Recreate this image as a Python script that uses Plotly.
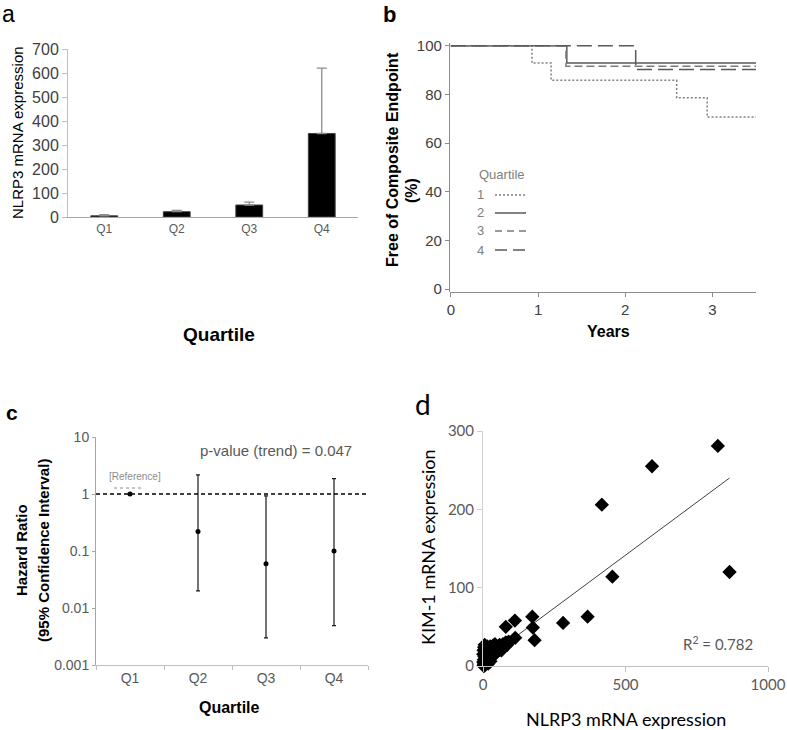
import plotly.graph_objects as go

W, H = 787, 730
def fx(p): return p / W
def fy(p): return 1 - p / H

ARIAL = "Liberation Sans, Arial, sans-serif"
CALIBRI = "Lato, Carlito, Calibri, sans-serif"

# ---------------- data ----------------
# panel a
quartiles = ["Q1", "Q2", "Q3", "Q4"]
nlrp3_mean = [5, 22, 50, 348]
nlrp3_sd = [5, 6, 12, 272]

# panel b (Kaplan-Meier, step curves)
q1_t = [0, 0.93, 1.15, 2.59, 2.94, 3.5]
q1_s = [100, 92.9, 85.8, 78.6, 70.7, 70.7]
q2_t = [0, 1.33, 3.5]
q2_s = [100, 92.9, 92.9]
q3_t = [0, 1.32, 3.5]
q3_s = [100, 91.6, 91.6]
q4_t = [0, 2.12, 3.5]
q4_s = [100, 90.2, 90.2]

# panel c
hr = [1, 0.22, 0.06, 0.10]
hr_lo = [1, 0.020, 0.003, 0.0049]
hr_hi = [1, 2.16, 0.93, 1.86]
hr_ticks = [10, 1, 0.1, 0.01, 0.001]
hr_ticktext = ["10", "1", "0.1", "0.01", "0.001"]

# panel d
nlrp3_x = [824, 593, 417, 865, 454, 367, 281, 173, 175, 181, 112, 80, 113,
           2, 4, 6, 8, 3, 5, 1, 2, 4, 6, 10, 12, 14, 16, 18, 20, 22, 25, 28,
           30, 33, 35, 38, 40, 42, 45, 48, 50, 55, 58, 62, 65, 70, 75, 80, 85,
           90, 10, 12, 20, 26, 15, 8, 32, 1, 3, 7, 18, 24, 36, 44, 52, 60, 68]
kim1_y = [281, 255, 206, 120, 114, 63, 55, 63, 49, 33, 58, 50, 36,
          1, 3, 2, 5, 8, 12, 15, 20, 24, 27, 22, 18, 10, 14, 6, 20, 16, 25, 12,
          20, 18, 26, 22, 15, 28, 20, 24, 18, 22, 27, 25, 20, 28, 26, 30, 27,
          31, 4, 8, 10, 6, 25, 18, 12, 5, 0, 1, 3, 9, 14, 17, 19, 21, 23]
trend_x = [0, 865]
trend_y = [6.5, 240]

fig = go.Figure()

# ---------- panel a ----------
fig.add_trace(go.Bar(
    x=quartiles, y=nlrp3_mean, width=0.37,
    marker=dict(color="black", line=dict(color="#404040", width=1)),
    error_y=dict(type="data", array=nlrp3_sd, arrayminus=[0, 0, 0, 0],
                 symmetric=False, color="#8c8c8c", thickness=1.3, width=5),
    xaxis="x", yaxis="y", showlegend=False))

# ---------- panel b ----------
km_styles = [
    (q1_t, q1_s, "#808080", "2px,2px"),
    (q2_t, q2_s, "#595959", "solid"),
    (q3_t, q3_s, "#7a7a7a", "8px,4px"),
    (q4_t, q4_s, "#595959", "15px,6px"),
]
for t, s, col, dash in km_styles:
    fig.add_trace(go.Scatter(x=t, y=s, mode="lines", line_shape="hv",
                             line=dict(color=col, width=1.5, dash=dash),
                             xaxis="x2", yaxis="y2", showlegend=False))

# ---------- panel c ----------
err_plus = [h - m for h, m in zip(hr_hi, hr)]
err_minus = [m - l for m, l in zip(hr, hr_lo)]
fig.add_trace(go.Scatter(
    x=quartiles, y=hr, mode="markers",
    marker=dict(color="black", size=5),
    error_y=dict(type="data", array=err_plus, arrayminus=err_minus,
                 symmetric=False, color="#1a1a1a", thickness=1.2, width=2),
    xaxis="x3", yaxis="y3", showlegend=False, cliponaxis=False))

# ---------- panel d ----------
fig.add_trace(go.Scatter(
    x=trend_x, y=trend_y, mode="lines",
    line=dict(color="#404040", width=1),
    xaxis="x4", yaxis="y4", showlegend=False))
fig.add_trace(go.Scatter(
    x=nlrp3_x, y=kim1_y, mode="markers",
    marker=dict(symbol="diamond", color="black", size=11, line=dict(width=0)),
    xaxis="x4", yaxis="y4", showlegend=False, cliponaxis=False))

# ---------- axes ----------
grey_t = "#404040"
common = dict(showgrid=False, zeroline=False, automargin=False)
layout = dict(
    template="none",
    width=W, height=H, margin=dict(l=0, r=0, t=0, b=0, autoexpand=False),
    paper_bgcolor="white", plot_bgcolor="white", showlegend=False,
    font=dict(family=ARIAL, color="black"),
    # panel a
    xaxis=dict(domain=[fx(68), fx(358)], anchor="y", range=[-0.5, 3.5],
               showline=True, linecolor="#a6a6a6", linewidth=1.2, ticks="",
               tickfont=dict(size=12, color="#595959"), **common),
    yaxis=dict(domain=[fy(217), fy(49)], anchor="x", range=[0, 700],
               tickvals=[0, 100, 200, 300, 400, 500, 600, 700],
               showline=True, linecolor="#bfbfbf", linewidth=1, ticks="outside",
               ticklen=5, tickcolor="#bfbfbf",
               tickfont=dict(size=16, color=grey_t), **common),
    # panel b
    xaxis2=dict(domain=[fx(450), fx(756)], anchor="free", position=fy(292),
                range=[-0.01, 3.5], tickvals=[0, 1, 2, 3],
                showline=True, linecolor="#8c8c8c", linewidth=1.2, ticks="outside",
                ticklen=4, tickcolor="#8c8c8c",
                tickfont=dict(size=15, color=grey_t), **common),
    yaxis2=dict(domain=[fy(292), fy(43.3)], anchor="free", position=fx(449),
                range=[-1.2, 101], tickvals=[0, 20, 40, 60, 80, 100],
                showline=True, linecolor="#8c8c8c", linewidth=1.2, ticks="outside",
                ticklen=4, tickcolor="#8c8c8c",
                tickfont=dict(size=15, color=grey_t), **common),
    # panel c
    xaxis3=dict(domain=[fx(96), fx(368)], anchor="y3", range=[-0.5, 3.5],
                showline=True, linecolor="#bfbfbf", linewidth=1, ticks="outside",
                tickson="boundaries", ticklen=4, tickcolor="#bfbfbf",
                tickfont=dict(size=14, color="#595959"), **common),
    yaxis3=dict(domain=[fy(665), fy(437)], anchor="x3", type="log", range=[-3, 1],
                tickvals=hr_ticks, ticktext=hr_ticktext,
                showline=True, linecolor="#a6a6a6", linewidth=1, ticks="outside",
                ticklen=3, tickcolor="#a6a6a6",
                tickfont=dict(size=14, color="#595959"), **common),
    # panel d
    xaxis4=dict(domain=[fx(483), fx(768)], anchor="y4", range=[0, 1000],
                tickvals=[0, 500, 1000], showline=True, linecolor="#bfbfbf",
                linewidth=1, ticks="outside", ticklen=5, tickcolor="#bfbfbf",
                tickfont=dict(family=CALIBRI, size=15, color="#595959"), **common),
    yaxis4=dict(domain=[fy(666), fy(431)], anchor="x4", range=[0, 300],
                tickvals=[0, 100, 200, 300], showline=True, linecolor="#d0d0d0",
                linewidth=1, ticks="outside", ticklen=5, tickcolor="#d0d0d0",
                tickfont=dict(family=CALIBRI, size=15, color="#595959"), **common),
)
fig.update_layout(**layout)

# ---------- annotations ----------
def ann(text, x, y, size, color="black", bold=False, angle=0, family=ARIAL,
        xanchor="center"):
    t = f"<b>{text}</b>" if bold else text
    fig.add_annotation(text=t, x=fx(x), y=fy(y), xref="paper", yref="paper",
                       showarrow=False, textangle=angle, xanchor=xanchor,
                       yanchor="middle", font=dict(size=size, color=color,
                                                   family=family))

# panel letters
ann("a", 8, 14, 23, bold=False)
ann("b", 389, 14, 22, bold=True)
ann("c", 12, 412, 21, bold=True)
ann("d", 423, 404, 28, family=CALIBRI)

# panel a titles
ann("NLRP3 mRNA expression", 18, 133, 15, angle=-90)
ann("Quartile", 219, 334, 19, bold=True)

# panel b titles
ann("Free of Composite Endpoint", 392, 160, 16, angle=-90, bold=True)
ann("(%)", 412, 191, 16, angle=-90, bold=True)
ann("Years", 608, 331, 16, bold=True)
# legend
ann("Quartile", 477, 175, 13, color="#808080", xanchor="left")
leg_rows = [("1", 195, "#808080", "2px,2px", 31),
            ("2", 213, "#595959", "solid", 31),
            ("3", 231, "#7a7a7a", "7px,5px", 31),
            ("4", 250, "#595959", "12px,6px", 30)]
for lbl, yy, col, dash, ln in leg_rows:
    ann(lbl, 480, yy, 13, color="#808080")
    fig.add_shape(type="line", xref="paper", yref="paper",
                  x0=fx(495), x1=fx(495 + ln), y0=fy(yy), y1=fy(yy),
                  line=dict(color=col, width=1.5, dash=dash))

# panel c titles / notes
ann("Hazard Ratio", 21, 550, 15, angle=-90, bold=True)
ann("(95% Confidence Interval)", 43, 551, 15, angle=-90, bold=True)
ann("Quartile", 229, 707, 16, bold=True)
ann("p-value (trend) = 0.047", 276, 451, 15, color="#595959")
ann("[Reference]", 135, 476, 10, color="#8c8c8c")
fig.add_shape(type="line", xref="paper", yref="paper",
              x0=fx(114), x1=fx(143), y0=fy(488), y1=fy(488),
              line=dict(color="#8c8c8c", width=1, dash="dot"))
fig.add_shape(type="line", xref="x3 domain", yref="y3",
              x0=0, x1=1, y0=1, y1=1,
              line=dict(color="black", width=1.3, dash="4px,3px"))

# panel d titles
ann("KIM-1 mRNA expression", 428, 547, 18, angle=-90, family=CALIBRI)
ann("NLRP3 mRNA expression", 626, 719, 18, family=CALIBRI)
ann("R<sup>2</sup> = 0.782", 718, 643, 15, color="#595959", family=CALIBRI)

fig.write_html("out.html",
               config={"displayModeBar": False},
               post_script="document.body.style.margin='0px';"
                           "document.body.style.overflow='hidden';")
